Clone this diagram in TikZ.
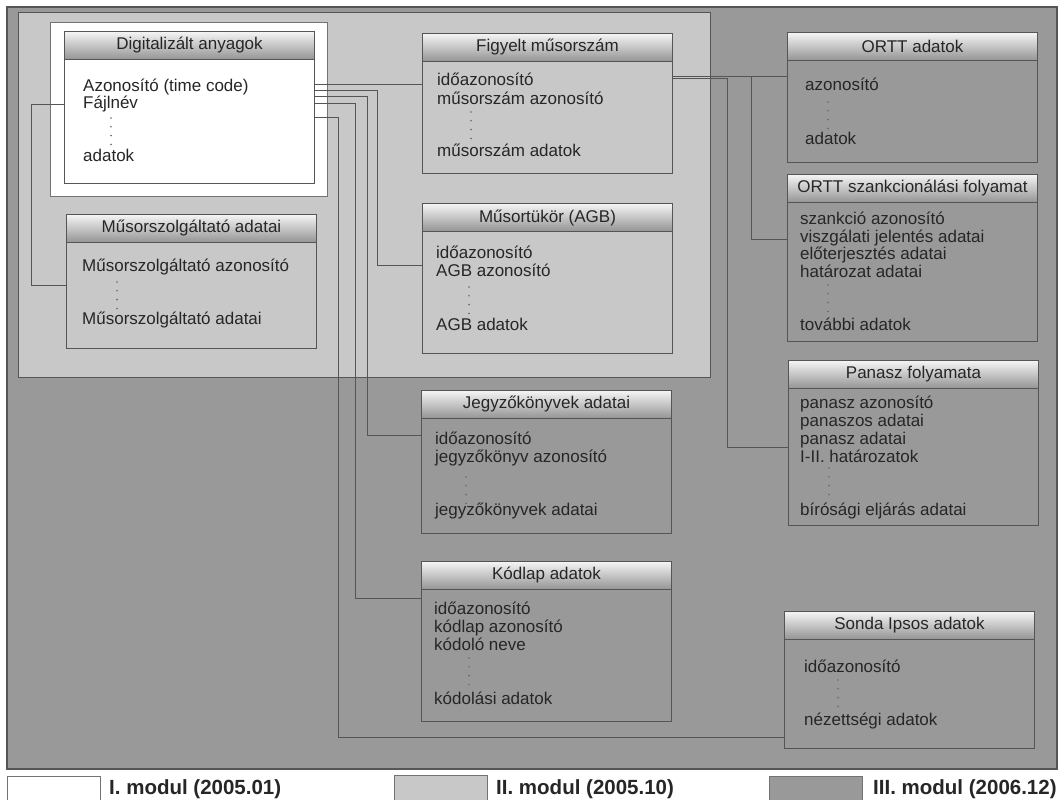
\documentclass[tikz,border=0pt]{standalone}
\usepackage{fontspec}
\setmainfont{Liberation Sans}
\usetikzlibrary{positioning}
\definecolor{modII}{RGB}{200,200,200}
\definecolor{modIII}{RGB}{153,153,153}
\definecolor{keret}{RGB}{85,85,85}
\definecolor{pont}{RGB}{105,105,105}
% one table: name, top-left corner, full height, title
\newcommand{\tabla}[4]{%
  \node[tbody,minimum height=#3pt] (#1) at (#2) {};
  \node[thead] (#1h) at (#2) {#4};}
% four small dots below each other
\newcommand{\pontok}[2]{%
  \foreach \k in {0,1,2,3} \fill[pont] (#1,{#2+8.8*\k}) circle (0.9pt);}

\begin{document}
\begin{tikzpicture}[x=1pt,y=-1pt,
  thead/.style={draw=keret,line width=1pt,anchor=north west,minimum width=250pt,
    minimum height=28pt,inner sep=0pt,top color=black!4,bottom color=black!42,
    font=\fontsize{17}{17}\selectfont,text=black!85},
  tbody/.style={draw=keret,line width=1pt,anchor=north west,minimum width=250pt,inner sep=0pt},
  row/.style={anchor=base west,inner sep=0pt,font=\fontsize{17}{17}\selectfont,text=black!85},
  link/.style={draw=keret,line width=1pt},
  jel/.style={draw=black!55,anchor=north west,minimum width=93pt,minimum height=28pt,inner sep=0pt},
  jeltext/.style={anchor=base west,inner sep=0pt,font=\bfseries\fontsize{20.5}{20.5}\selectfont,text=black!85}]
  \useasboundingbox (0,0) rectangle (1061,800);
  \fill[white] (0,0) rectangle (1061,800);
  % ---------------- modules ------------------------------------------
  \filldraw[fill=modIII,draw=keret,line width=1.2pt] (7,7) rectangle (1057,769);
  \filldraw[fill=modII,draw=keret,line width=1pt] (18,13) rectangle (710,377);
  \filldraw[fill=white,draw=black!55,line width=0.8pt] (50,22) rectangle (327,196);
  % ---------------- tables -------------------------------------------
  \tabla{dig}{64,31}{152}{Digitalizált anyagok}
  \tabla{msz}{66,214}{134}{Műsorszolgáltató adatai}
  \tabla{fig}{422,33}{140}{Figyelt műsorszám}
  \tabla{agb}{422,203}{150}{Műsortükör (AGB)}
  \tabla{jkv}{421,390}{143}{Jegyzőkönyvek adatai}
  \tabla{kod}{421,561}{160}{Kódlap adatok}
  \tabla{ortt}{787,32}{130}{ORTT adatok}
  \tabla{szank}{787,174}{167}{ORTT szankcionálási folyamat}
  \tabla{pan}{788,360}{165}{Panasz folyamata}
  \tabla{sonda}{784,611}{137}{Sonda Ipsos adatok}
  % ---------------- fields -------------------------------------------
  \node[row] (dig1) at (83,92) {Azonosító (time code)};
  \node[row] (dig2) at (83,109) {Fájlnév};
  \pontok{111}{118}
  \node[row] (dig3) at (83,161) {adatok};
  \node[row] (msz1) at (82,271) {Műsorszolgáltató azonosító};
  \pontok{117}{282}
  \node[row] (msz2) at (82,324) {Műsorszolgáltató adatai};
  \node[row] (fig1) at (437,86) {időazonosító};
  \node[row] (fig2) at (437,104) {műsorszám azonosító};
  \pontok{471}{112}
  \node[row] (fig3) at (437,157) {műsorszám adatok};
  \node[row] (agb1) at (436,258) {időazonosító};
  \node[row] (agb2) at (436,276) {AGB azonosító};
  \pontok{469}{287}
  \node[row] (agb3) at (436,330) {AGB adatok};
  \node[row] (jkv1) at (435,444) {időazonosító};
  \node[row] (jkv2) at (435,462) {jegyzőkönyv azonosító};
  \pontok{466}{477}
  \node[row] (jkv3) at (435,515) {jegyzőkönyvek adatai};
  \node[row] (kod1) at (434,614) {időazonosító};
  \node[row] (kod2) at (434,632) {kódlap azonosító};
  \node[row] (kod3) at (434,650) {kódoló neve};
  \pontok{469}{658}
  \node[row] (kod4) at (434,704) {kódolási adatok};
  \node[row] (ortt1) at (805,91) {azonosító};
  \pontok{828}{102}
  \node[row] (ortt2) at (805,144) {adatok};
  \node[row] (szank1) at (800,224) {szankció azonosító};
  \node[row] (szank2) at (800,242) {viszgálati jelentés adatai};
  \node[row] (szank3) at (800,259) {előterjesztés adatai};
  \node[row] (szank4) at (800,277) {határozat adatai};
  \pontok{828}{285}
  \node[row] (szank5) at (800,330) {további adatok};
  \node[row] (pan1) at (800,408) {panasz azonosító};
  \node[row] (pan2) at (800,426) {panaszos adatai};
  \node[row] (pan3) at (800,444) {panasz adatai};
  \node[row] (pan4) at (800,462) {I-II. határozatok};
  \pontok{829}{468}
  \node[row] (pan5) at (800,515) {bírósági eljárás adatai};
  \node[row] (sonda1) at (804,672) {időazonosító};
  \pontok{838}{680}
  \node[row] (sonda2) at (804,725) {nézettségi adatok};
  % ---------------- links --------------------------------------------
  \draw[link] (dig.east |- 0,85) -- (fig.west |- 0,85);
  \draw[link] (dig.east |- 0,91) -| (377,265) -- (agb.west |- 0,265);
  \draw[link] (dig.east |- 0,97) -| (367,435) -- (jkv.west |- 0,435);
  \draw[link] (dig.east |- 0,104) -| (355,598) -- (kod.west |- 0,598);
  \draw[link] (dig.east |- 0,117) -| (338,737) -- (sonda.west |- 0,737);
  \draw[link] (dig.west |- 0,105) -| (31,285) -- (msz.west |- 0,285);
  \draw[link] (fig.east |- 0,77) -- (ortt.west |- 0,77);
  \draw[link] (fig.east |- 0,77) -| (751,239) -- (szank.west |- 0,239);
  \draw[link] (fig.east |- 0,79) -| (727,447) -- (pan.west |- 0,447);
  % ---------------- legend -------------------------------------------
  \node[jel,fill=white] (lgI) at (7,776) {};
  \node[jeltext] (lgIt) at (109,794) {I. modul (2005.01)};
  \node[jel,fill=modII] (lgII) at (394,775) {};
  \node[jeltext] (lgIIt) at (496,794) {II. modul (2005.10)};
  \node[jel,fill=modIII] (lgIII) at (769,776) {};
  \node[jeltext] (lgIIIt) at (873,794) {III. modul (2006.12)};
\end{tikzpicture}
\end{document}
